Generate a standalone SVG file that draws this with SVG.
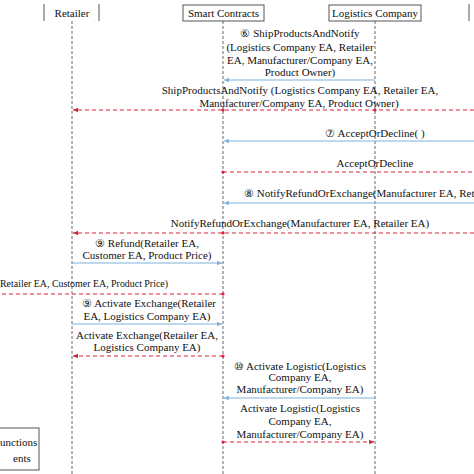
<svg xmlns="http://www.w3.org/2000/svg" width="474" height="474" viewBox="0 0 474 474">
<style>
text{font-family:"Liberation Serif","Times New Roman","DejaVu Serif",serif;font-size:11px;fill:#111}
.c{text-anchor:middle}
.e{text-anchor:end}
.box{fill:#fff;stroke:#555;stroke-width:1}
.edge{stroke:#555;stroke-width:1}
.life{stroke:#666;stroke-width:1;stroke-dasharray:3 2}
.call{stroke:#7fb3db;stroke-width:1.2;fill:none}
.evt{stroke:#d9203f;stroke-width:1.2;stroke-dasharray:4 3;fill:none}
.dot{fill:#d9203f}
</style>
<defs>
<marker id="ab" markerWidth="6" markerHeight="6" refX="5" refY="3" orient="auto" markerUnits="userSpaceOnUse"><path d="M0,0.8 L5,3 L0,5.2 z" fill="#7fb3db"/></marker>
<marker id="ar" markerWidth="6" markerHeight="6" refX="5" refY="3" orient="auto" markerUnits="userSpaceOnUse"><path d="M0,0.8 L5,3 L0,5.2 z" fill="#d9203f"/></marker>
</defs>
<rect width="474" height="474" fill="#fff"/>
<g id="lifelines">
<line class="life" x1="72" y1="21" x2="72" y2="474"/>
<line class="life" x1="223" y1="21" x2="223" y2="474"/>
<line class="life" x1="375" y1="21" x2="375" y2="474"/>
</g>
<g id="retailer">
<line class="edge" x1="44" y1="4" x2="44" y2="21"/>
<line class="edge" x1="99" y1="4" x2="99" y2="21"/>
<text class="c" x="72" y="17">Retailer</text>
</g>
<g id="smart-contracts">
<rect class="box" x="183" y="5" width="81" height="16"/>
<text class="c" x="223.5" y="17">Smart Contracts</text>
</g>
<g id="logistics-company">
<rect class="box" x="329" y="5" width="92" height="16"/>
<text class="c" x="375" y="17">Logistics Company</text>
</g>
<g id="right-participant">
<line class="edge" x1="469" y1="4" x2="469" y2="21"/>
</g>
<g id="connectors">
<line class="call" x1="375" y1="80" x2="224" y2="80" marker-end="url(#ab)"/>
<line class="evt" x1="474" y1="110" x2="73" y2="110" marker-end="url(#ar)"/>
<circle class="dot" cx="223" cy="110" r="1.6"/><circle class="dot" cx="375" cy="110" r="1.6"/>
<line class="call" x1="474" y1="141" x2="224" y2="141" marker-end="url(#ab)"/>
<line class="evt" x1="223" y1="172" x2="474" y2="172"/>
<circle class="dot" cx="223" cy="172" r="1.6"/>
<line class="call" x1="474" y1="203" x2="224" y2="203" marker-end="url(#ab)"/>
<line class="evt" x1="474" y1="233" x2="73" y2="233" marker-end="url(#ar)"/>
<circle class="dot" cx="223" cy="233" r="1.6"/>
<line class="call" x1="72" y1="263" x2="222" y2="263" marker-end="url(#ab)"/>
<line class="evt" x1="223" y1="294" x2="0" y2="294"/>
<circle class="dot" cx="223" cy="294" r="1.6"/>
<line class="call" x1="72" y1="324" x2="222" y2="324" marker-end="url(#ab)"/>
<line class="evt" x1="223" y1="356" x2="73" y2="356" marker-end="url(#ar)"/>
<circle class="dot" cx="223" cy="356" r="1.6"/>
<line class="call" x1="375" y1="398" x2="224" y2="398" marker-end="url(#ab)"/>
<line class="evt" x1="223" y1="442" x2="374" y2="442" marker-end="url(#ar)"/>
<circle class="dot" cx="223" cy="442" r="1.6"/>
</g>
<g id="labels">
<text class="c" x="300" y="37">⑥ ShipProductsAndNotify</text>
<text class="c" x="300" y="51">(Logistics Company EA, Retailer</text>
<text class="c" x="300" y="64">EA, Manufacturer/Company EA,</text>
<text class="c" x="300" y="76">Product Owner)</text>
<text class="c" x="300" y="94">ShipProductsAndNotify (Logistics Company EA, Retailer EA,</text>
<text class="c" x="299" y="107">Manufacturer/Company EA, Product Owner)</text>
<text class="c" x="375" y="137">⑦ AcceptOrDecline( )</text>
<text class="c" x="375" y="167">AcceptOrDecline</text>
<text x="244" y="197">⑧ NotifyRefundOrExchange(Manufacturer EA, Retailer EA)</text>
<text class="c" x="300" y="227">NotifyRefundOrExchange(Manufacturer EA, Retailer EA)</text>
<text class="c" x="147" y="247">⑨ Refund(Retailer EA,</text>
<text class="c" x="147" y="259">Customer EA, Product Price)</text>
<text x="0" y="287" textLength="168" lengthAdjust="spacingAndGlyphs">Retailer EA, Customer EA, Product Price)</text>
<text class="c" x="149" y="307">⑨ Activate Exchange(Retailer</text>
<text class="c" x="147" y="320">EA, Logistics Company EA)</text>
<text class="c" x="147" y="339">Activate Exchange(Retailer EA,</text>
<text class="c" x="147" y="351">Logistics Company EA)</text>
<text class="c" x="300" y="370">⑩ Activate Logistic(Logistics</text>
<text class="c" x="300" y="381">Company EA,</text>
<text class="c" x="300" y="393">Manufacturer/Company EA)</text>
<text class="c" x="300" y="412">Activate Logistic(Logistics</text>
<text class="c" x="300" y="425">Company EA,</text>
<text class="c" x="300" y="438">Manufacturer/Company EA)</text>
</g>
<g id="legend">
<rect class="box" x="-5" y="428" width="44" height="42"/>
<text x="0" y="446">unctions</text>
<text x="13" y="462">ents</text>
</g>
</svg>
